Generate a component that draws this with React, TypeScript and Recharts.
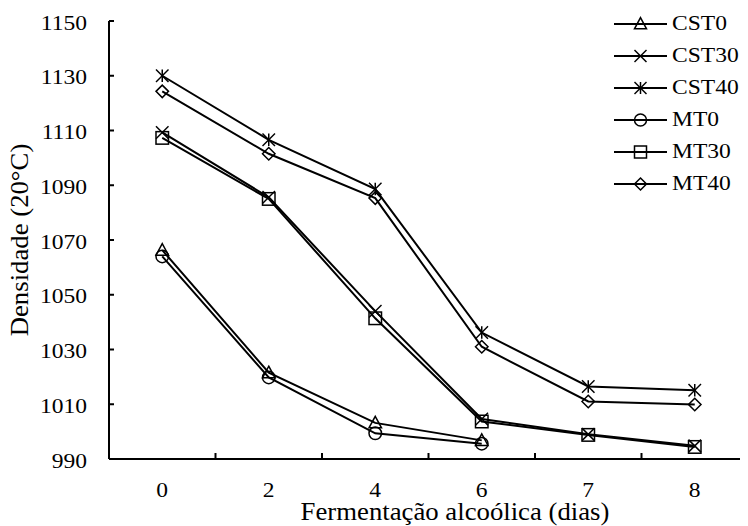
import React from "react";
import { LineChart, Line, XAxis, YAxis, Legend, Label } from "recharts";

const days = ["0", "2", "4", "6", "7", "8"];
const cst0 = [1066.3, 1021.5, 1003.2, 996.8, null, null];
const cst30 = [1109.3, 1085.6, 1044.0, 1004.6, 999.0, 994.8];
const cst40 = [1130.0, 1106.6, 1088.6, 1036.2, 1016.5, 1015.1];
const mt0 = [1064.0, 1019.8, 999.4, 995.6, null, null];
const mt30 = [1107.3, 1085.0, 1041.4, 1003.7, 998.8, 994.4];
const mt40 = [1124.3, 1101.5, 1085.3, 1031.0, 1011.0, 1009.9];
const yTicks = [990, 1010, 1030, 1050, 1070, 1090, 1110, 1130, 1150];

const seriesNames = ["CST0", "CST30", "CST40", "MT0", "MT30", "MT40"];
const seriesShapes = ["triangle", "cross", "star", "circle", "square", "diamond"];
const seriesValues = [cst0, cst30, cst40, mt0, mt30, mt40];

const data = days.map((d, i) => {
  const row: any = { day: d };
  seriesNames.forEach((n, k) => {
    row[n] = seriesValues[k][i];
  });
  return row;
});

const FONT = "Liberation Serif";
const SX = 1.07;
const W = 740;
const H = 518;
const PLOT_W = 639;
const BAND = PLOT_W / days.length;

function Marker({ shape, cx, cy, s }: { shape: string; cx: number; cy: number; s: number }) {
  const h = s / 2;
  const common = { fill: "none", stroke: "#000", strokeWidth: 1.5 };
  switch (shape) {
    case "triangle":
      return (
        <polygon
          {...common}
          points={`${cx},${cy - h * 1.05} ${cx + h},${cy + h * 0.8} ${cx - h},${cy + h * 0.8}`}
        />
      );
    case "cross":
      return (
        <g {...common}>
          <line x1={cx - h} y1={cy - h} x2={cx + h} y2={cy + h} />
          <line x1={cx - h} y1={cy + h} x2={cx + h} y2={cy - h} />
        </g>
      );
    case "star":
      return (
        <g {...common}>
          <line x1={cx - h} y1={cy - h} x2={cx + h} y2={cy + h} />
          <line x1={cx - h} y1={cy + h} x2={cx + h} y2={cy - h} />
          <line x1={cx} y1={cy - h} x2={cx} y2={cy + h} />
        </g>
      );
    case "circle":
      return <circle {...common} cx={cx} cy={cy} r={h} />;
    case "square":
      return <rect {...common} x={cx - h} y={cy - h} width={s} height={s} />;
    case "diamond":
      return (
        <polygon
          {...common}
          points={`${cx},${cy - h} ${cx + h},${cy} ${cx},${cy + h} ${cx - h},${cy}`}
        />
      );
    default:
      return null;
  }
}

const makeDot = (shape: string) => (props: any) => {
  const { cx, cy, index } = props;
  if (typeof cx !== "number" || typeof cy !== "number" || isNaN(cy) || props.value == null) {
    return <g key={`e-${shape}-${index}`} />;
  }
  return (
    <g key={`d-${shape}-${index}`}>
      <Marker shape={shape} cx={cx} cy={cy} s={12.5} />
    </g>
  );
};

const YTick = (p: any) => {
  const { x, y, payload } = p;
  return (
    <g>
      <line x1={x} x2={x + 5} y1={y} y2={y} stroke="#000" strokeWidth={2} />
      <text
        transform={`translate(${x - 22},${y + 8.5}) scale(${SX},1)`}
        textAnchor="end"
        fontFamily={FONT}
        fontSize={22}
        fill="#000"
      >
        {payload.value}
      </text>
    </g>
  );
};

const XTick = (p: any) => {
  const { x, y, payload, index } = p;
  const bx = x - BAND / 2;
  return (
    <g>
      {index > 0 ? <line x1={bx} x2={bx} y1={y} y2={y - 6} stroke="#000" strokeWidth={2} /> : null}
      <text
        transform={`translate(${x},${y + 37.5}) scale(${SX},1)`}
        textAnchor="middle"
        fontFamily={FONT}
        fontSize={22}
        fill="#000"
      >
        {payload.value}
      </text>
    </g>
  );
};

const renderLegend = () => (
  <svg width={140} height={200} style={{ display: "block" }}>
    {seriesNames.map((n, i) => {
      const cy = 16 + i * 32;
      return (
        <g key={n}>
          <line x1={6} x2={59} y1={cy} y2={cy} stroke="#000" strokeWidth={2} />
          <Marker shape={seriesShapes[i]} cx={32.5} cy={cy} s={12} />
          <text
            transform={`translate(64,${cy + 6}) scale(${SX},1)`}
            fontFamily={FONT}
            fontSize={22}
            fill="#000"
          >
            {n}
          </text>
        </g>
      );
    })}
  </svg>
);

export default function App() {
  return (
    <div style={{ width: W, height: H, background: "#fff" }}>
      <LineChart width={W} height={H} data={data} margin={{ top: 13, right: 0, bottom: 0, left: 0 }}>
        <XAxis
          dataKey="day"
          type="category"
          height={67}
          interval={0}
          padding={{ left: BAND / 2, right: BAND / 2 }}
          axisLine={{ stroke: "#000", strokeWidth: 2 }}
          tickLine={false}
          tickSize={0}
          tickMargin={0}
          tick={XTick}
        >
          <Label
            content={() => (
              <text
                transform={`translate(447,512) scale(${SX},1)`}
                textAnchor="middle"
                fontFamily={FONT}
                fontSize={25}
                fill="#000"
              >
                Fermentação alcoólica (dias)
              </text>
            )}
          />
        </XAxis>
        <YAxis
          type="number"
          width={101}
          domain={[990, 1150]}
          ticks={yTicks}
          interval={0}
          allowDataOverflow
          axisLine={{ stroke: "#000", strokeWidth: 2 }}
          tickLine={false}
          tickSize={0}
          tickMargin={0}
          tick={YTick}
        >
          <Label
            content={() => (
              <text
                transform={`translate(20,232) rotate(-90) scale(${SX},1)`}
                textAnchor="middle"
                fontFamily={FONT}
                fontSize={25}
                fill="#000"
              >
                Densidade (20°C)
              </text>
            )}
          />
        </YAxis>
        <Legend
          layout="horizontal"
          verticalAlign="middle"
          align="center"
          wrapperStyle={{ top: 0, left: 600, width: 140, height: 200 }}
          content={renderLegend}
        />
        {seriesNames.map((n, i) => (
          <Line
            key={n}
            dataKey={n}
            stroke="#000"
            strokeWidth={2}
            dot={makeDot(seriesShapes[i])}
            activeDot={false}
            connectNulls={false}
            isAnimationActive={false}
          />
        ))}
      </LineChart>
    </div>
  );
}
